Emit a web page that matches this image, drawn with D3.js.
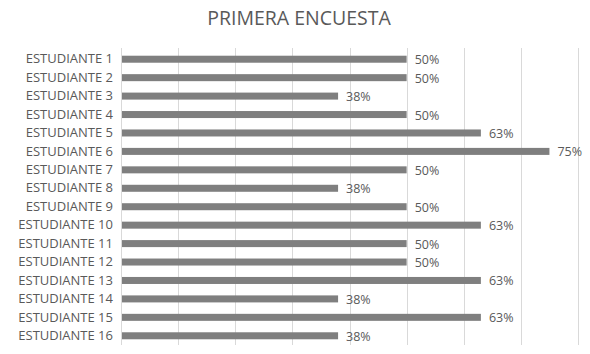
<!DOCTYPE html>
<html>
<head>
<meta charset="utf-8">
<script src="https://cdnjs.cloudflare.com/ajax/libs/d3/7.8.5/d3.min.js"></script>
<style>
  body { margin: 0; background: #fff; }
  text { font-family: "Open Sans", "DejaVu Sans", sans-serif; fill: #595959; }
</style>
</head>
<body>
<script>
// Datos de la encuesta
var estudiantes = ["ESTUDIANTE 1", "ESTUDIANTE 2", "ESTUDIANTE 3", "ESTUDIANTE 4",
    "ESTUDIANTE 5", "ESTUDIANTE 6", "ESTUDIANTE 7", "ESTUDIANTE 8",
    "ESTUDIANTE 9", "ESTUDIANTE 10", "ESTUDIANTE 11", "ESTUDIANTE 12",
    "ESTUDIANTE 13", "ESTUDIANTE 14", "ESTUDIANTE 15", "ESTUDIANTE 16"];
var valores = [0.5, 0.5, 0.38, 0.5, 0.63, 0.75, 0.5, 0.38,
    0.5, 0.63, 0.5, 0.5, 0.63, 0.38, 0.63, 0.38];
var ticks = [0, 0.1, 0.2, 0.3, 0.4, 0.5, 0.6, 0.7, 0.8];
var titulo = "PRIMERA ENCUESTA";

var margin = {top: 50, right: 12, bottom: 9, left: 121},
    width = 590 - margin.left - margin.right,
    height = 354 - margin.top - margin.bottom;

var x = d3.scaleLinear().domain([0, 0.8]).range([0, 457]);
var y = d3.scaleBand().domain(estudiantes).range([0, height]).paddingInner(0.62).paddingOuter(0.31);

var svg = d3.select("body").append("svg")
    .attr("width", 590)
    .attr("height", 354);

svg.append("text")
    .attr("x", 299)
    .attr("y", 25)
    .attr("text-anchor", "middle")
    .style("font-size", "19.5px")
    .text(titulo);

var g = svg.append("g")
    .attr("transform", "translate(" + margin.left + "," + margin.top + ")");

// Líneas de la cuadrícula
g.selectAll(".grid")
    .data(ticks)
    .enter().append("line")
    .attr("x1", function(d) { return Math.round(x(d)) + 0.5; })
    .attr("x2", function(d) { return Math.round(x(d)) + 0.5; })
    .attr("y1", -2)
    .attr("y2", height)
    .attr("stroke", "#d9d9d9")
    .attr("stroke-width", 1);

// Eje Y (solo etiquetas)
var yAxis = d3.axisLeft(y).tickSize(0).tickPadding(8);
g.append("g")
    .call(yAxis)
    .call(function(s) { s.select(".domain").remove(); })
    .selectAll("text")
    .style("font-size", "13px")
    .attr("fill", "#595959");

var datos = estudiantes.map(function(e, i) { return {nombre: e, valor: valores[i]}; });

// Barras
g.selectAll(".bar")
    .data(datos)
    .enter().append("rect")
    .attr("x", x(0) + 1)
    .attr("y", function(d) { return y(d.nombre); })
    .attr("width", function(d) { return x(d.valor) - 1; })
    .attr("height", y.bandwidth())
    .attr("fill", "#7f7f7f");

// Etiquetas de datos
g.selectAll(".lbl")
    .data(datos)
    .enter().append("text")
    .attr("x", function(d) { return x(d.valor) + 8; })
    .attr("y", function(d) { return y(d.nombre) + y.bandwidth() / 2 + 5; })
    .style("font-size", "12.5px")
    .text(function(d) { return Math.round(d.valor * 100) + "%"; });
</script>
</body>
</html>
